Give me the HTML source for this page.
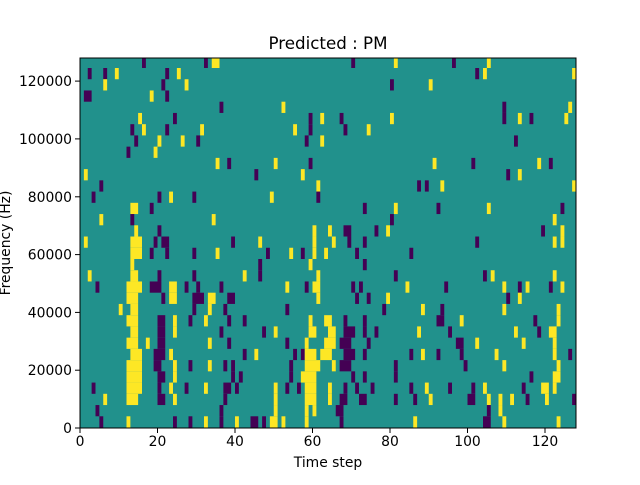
<!DOCTYPE html>
<html><head><meta charset="utf-8"><style>
body{margin:0;background:#fff;}
svg text{font-family:"DejaVu Sans","Liberation Sans",sans-serif;fill:#000;}
</style></head><body>
<svg id="s" width="640" height="480" xmlns="http://www.w3.org/2000/svg">
<rect x="0" y="0" width="640" height="480" fill="#fff"/>
<rect x="80" y="58" width="496" height="370" fill="#21918c"/>
<g id="cells"></g>
<rect x="80" y="58" width="496" height="370" fill="none" stroke="#000" stroke-width="1"/>
<g stroke="#000" stroke-width="1">
<line x1="80" y1="428" x2="80" y2="433"/><line x1="157.5" y1="428" x2="157.5" y2="433"/><line x1="235" y1="428" x2="235" y2="433"/><line x1="312.5" y1="428" x2="312.5" y2="433"/><line x1="390" y1="428" x2="390" y2="433"/><line x1="467.5" y1="428" x2="467.5" y2="433"/><line x1="545" y1="428" x2="545" y2="433"/>
<line x1="75" y1="428" x2="80" y2="428"/><line x1="75" y1="370.2" x2="80" y2="370.2"/><line x1="75" y1="312.4" x2="80" y2="312.4"/><line x1="75" y1="254.6" x2="80" y2="254.6"/><line x1="75" y1="196.8" x2="80" y2="196.8"/><line x1="75" y1="138.9" x2="80" y2="138.9"/><line x1="75" y1="81.1" x2="80" y2="81.1"/>
</g>
<g font-size="13.9" text-anchor="middle">
<text x="80" y="446">0</text><text x="157.5" y="446">20</text><text x="235" y="446">40</text><text x="312.5" y="446">60</text><text x="390" y="446">80</text><text x="467.5" y="446">100</text><text x="545" y="446">120</text>
</g>
<g font-size="13.9" text-anchor="end">
<text x="72" y="433">0</text><text x="72" y="375.2">20000</text><text x="72" y="317.4">40000</text><text x="72" y="259.6">60000</text><text x="72" y="201.8">80000</text><text x="72" y="143.9">100000</text><text x="72" y="86.1">120000</text>
</g>
<text x="328" y="49" font-size="16.7" text-anchor="middle">Predicted : PM</text>
<text x="328" y="467" font-size="13.9" text-anchor="middle">Time step</text>
<text transform="translate(10,243) rotate(-90)" font-size="13.9" text-anchor="middle">Frequency (Hz)</text>
</svg>
<script>
var R=[
"d16 d32 y34-35 d70 y81 d96 y105",
"d2 d6 y9 d22 y25 d102 y104 y127",
"y6 d21 y27 d80 y90",
"d1-2 y18 d22",
"d36 y52 d109 y126",
"y15 d24 d59 y62 d67 y80 d109 y113 d116 y125",
"d13 y16 d22 y31 y55 d59 d68 y74",
"d14 y20 y26 d30 d58 y62 d112",
"d12 y19",
"y35 d38 y50 d59 y91 d101 y118 d121",
"y1 d45 y57 d110 y113",
"d5 y61 d87 d89 y93 y127",
"d3 d20 y23 d29 y49 d61",
"y13-14 d18 d73 y81 d92 y105 d124",
"y5 d13 y34 d80 y122",
"y14 d20 y60 y64 d68-69 d76 y79 d119 y124",
"y1 y13-15 d19 d21-22 d39 y46 y60 y65 d69 d73 d102 y122 y124",
"y13-15 d18 d22 d29 y35 d48 y54 d57 y60 y63 d71 d85",
"y13 d46 y59 d73",
"y2 y13-14 d20 d29 y42 d46 y61 d81 d104 y106 y122",
"d4 y12-15 d18-20 y23-24 d27 d30 d36 y53 d58 y60-61 d70 d72 y84 d94 y109 d113 y115 d121 y124",
"y12-14 d21 y23-24 d29-31 y33-34 d38-39 y61 d71 d74 y79 d110 y113",
"y10 y13-14 d29 y33 d37 d53 d78 y88 d93 y109 y123",
"y12-14 d20-21 y24 d28 y32 d38 d42 y59 y63-64 d68 d73 d92-93 y98 d117 y123",
"y13-14 d20-21 y24 d36 d47 y50 y59-60 y64-65 d68-70 d73 d76 y87 d95 y112 d118 y121-122",
"y12-14 y17 d20-21 y33 d38 d53 y58 y63-65 d67-69 d74 d97-98 y102 y114 y122",
"y13-15 d19-21 y23 d42 y45 d55 d57 y58-60 y62-64 d68-70 d73 d85 y88 d92 d98 y107 y122 d126",
"y12-15 d19-20 y24 d28 y33 d37 d39 d54 y58-61 y65 d67-69 d81 d99 y109 y123",
"y12-15 d20-21 y24 d39 d41 d54 y57-60 d70 d73 d81 d116 y122-123",
"d3 y12-15 d20 y23 d27 y32 d37-38 d40 y50 d53 d56 y58-60 y64 d68 d71 d75 d85 y89 d95 d101 y104 d114 y119-120 y122",
"y6 y12-14 d20-21 y24 d37 y50 y58-60 y64 d67-68 d72-73 d81 d86 y90 d100-101 y105 y108 y111 d115 y120 d127",
"d4 d36 y50 y58 y60 d66-67 d105 y108",
"d5 y12 d24 d28 y32 d36 y40 d44-45 d47 y49-50 y52 y58 d67 y86 d104-105 y109 y123"
];
var g=document.getElementById('cells'),ns='http://www.w3.org/2000/svg',h=11.235,cw=3.875;
R.forEach(function(s,k){
 var top=k==0?58:68+(k-1)*h, bot=k==0?68:68+k*h;
 s.split(' ').forEach(function(t){
  if(!t)return;
  var c=t[0]=='y'?'#fde725':'#440154',p=t.slice(1).split('-'),a=+p[0],b=p.length>1?+p[1]:a;
  var r=document.createElementNS(ns,'rect');
  r.setAttribute('x',80+a*cw);r.setAttribute('y',top);
  r.setAttribute('width',(b-a+1)*cw);r.setAttribute('height',bot-top);
  r.setAttribute('fill',c);g.appendChild(r);
 });
});
</script>
</body></html>
